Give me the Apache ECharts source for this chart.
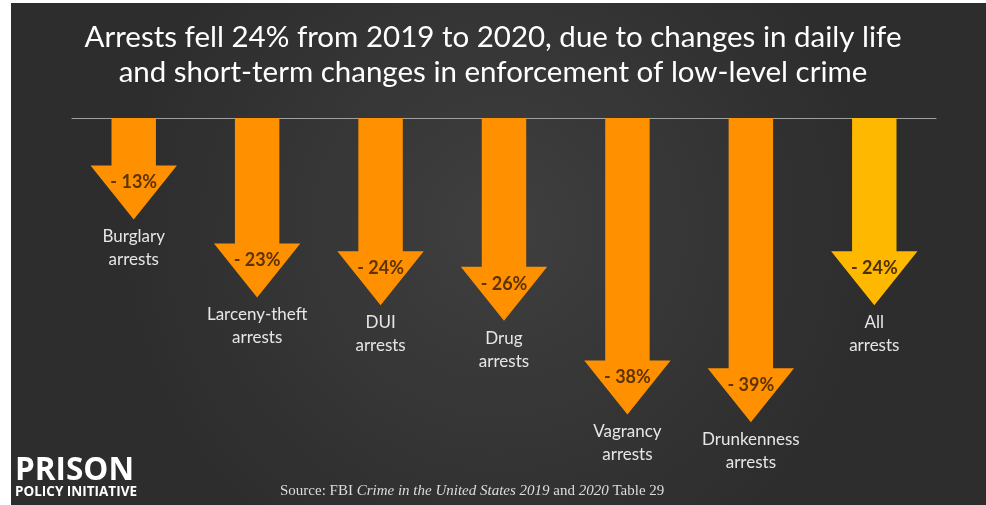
<!DOCTYPE html>
<html><head><meta charset="utf-8">
<script src="https://cdn.jsdelivr.net/npm/echarts@6/dist/echarts.min.js"></script>
<style>html,body{margin:0;padding:0;background:#fff}#c{width:986px;height:505px}</style>
</head><body><div id="c"></div>
<script>
// ---- data ----
const categories = ['Burglary', 'Larceny-theft', 'DUI', 'Drug', 'Vagrancy', 'Drunkenness', 'All'];
const categorySuffix = 'arrests';
const declinePct = [13, 23, 24, 26, 38, 39, 24];
const titleLines = [
  'Arrests fell 24% from 2019 to 2020, due to changes in daily life',
  'and short-term changes in enforcement of low-level crime'
];
const logoLines = ['PRISON', 'POLICY INITIATIVE'];

const chart = echarts.init(document.getElementById('c'));

function renderItem(params, api) {
  const idx = api.value(0);
  const v = api.value(1);
  const top = api.coord([idx, 0]);
  const tip = api.coord([idx, v]);
  const band = api.size([1, 0])[0];
  const shaftW = band * 0.36, headW = band * 0.70, headH = 54;
  const cx = top[0], y0 = top[1], yt = tip[1], yh = yt - headH;
  const isAll = idx === categories.length - 1;
  const pts = [
    [cx - shaftW / 2, y0], [cx + shaftW / 2, y0], [cx + shaftW / 2, yh],
    [cx + headW / 2, yh], [cx, yt], [cx - headW / 2, yh], [cx - shaftW / 2, yh]
  ];
  return {
    type: 'group',
    children: [
      { type: 'polygon', shape: { points: pts },
        style: { fill: isAll ? '#FFB800' : '#FF9100', stroke: null } },
      { type: 'text', style: {
          x: cx, y: yh + 17, text: '- ' + v + '%', align: 'center', verticalAlign: 'middle',
          fill: isAll ? '#4d3100' : '#5e3300', font: 'bold 18px Lato'
        } },
      { type: 'text', style: {
          x: cx, y: yt + 6, text: categories[idx] + '\n' + categorySuffix,
          align: 'center', verticalAlign: 'top', lineHeight: 23,
          fill: '#e6e6e6', font: '17px Lato'
        } }
    ]
  };
}

chart.setOption({
  backgroundColor: '#ffffff',
  animation: false,
  title: {
    text: titleLines.join('\n'),
    left: 'center', top: 15,
    textStyle: { color: '#ffffff', fontSize: 29.5, lineHeight: 35, fontWeight: 'normal', fontFamily: 'Lato' }
  },
  grid: { left: 72, right: 50, top: 118, bottom: 36 },
  xAxis: {
    type: 'category', data: categories, position: 'top',
    axisLine: { onZero: false, lineStyle: { color: '#a0a0a0', width: 1 } },
    axisTick: { show: false }, axisLabel: { show: false }, splitLine: { show: false }
  },
  yAxis: { type: 'value', min: 0, max: 45, inverse: true, show: false },
  graphic: [
    { type: 'rect', z: -100, shape: { x: 11, y: 3, width: 975, height: 502 },
      style: { fill: new echarts.graphic.RadialGradient(0.5, 0.45, 0.75, [
        { offset: 0, color: '#3f3f3f' }, { offset: 1, color: '#2d2d2d' }]) } },
    { type: 'text', left: 15, top: 455, style: { text: logoLines[0], fill: '#ffffff', font: 'bold 31.5px "Open Sans"' } },
    { type: 'text', left: 15, top: 485, style: { text: logoLines[1], fill: '#ffffff', font: 'bold 13.5px "Open Sans"' } },
    { type: 'text', left: 280, top: 484, style: {
        text: '{n|Source: FBI }{i|Crime in the United States 2019}{n| and }{i|2020}{n| Table 29}',
        rich: {
          n: { fill: '#dddddd', font: '15px "Liberation Serif"' },
          i: { fill: '#dddddd', font: 'italic 15px "Liberation Serif"' }
        } } }
  ],
  series: [{
    type: 'custom', renderItem: renderItem,
    data: declinePct.map((v, i) => [i, v])
  }]
});
</script></body></html>
